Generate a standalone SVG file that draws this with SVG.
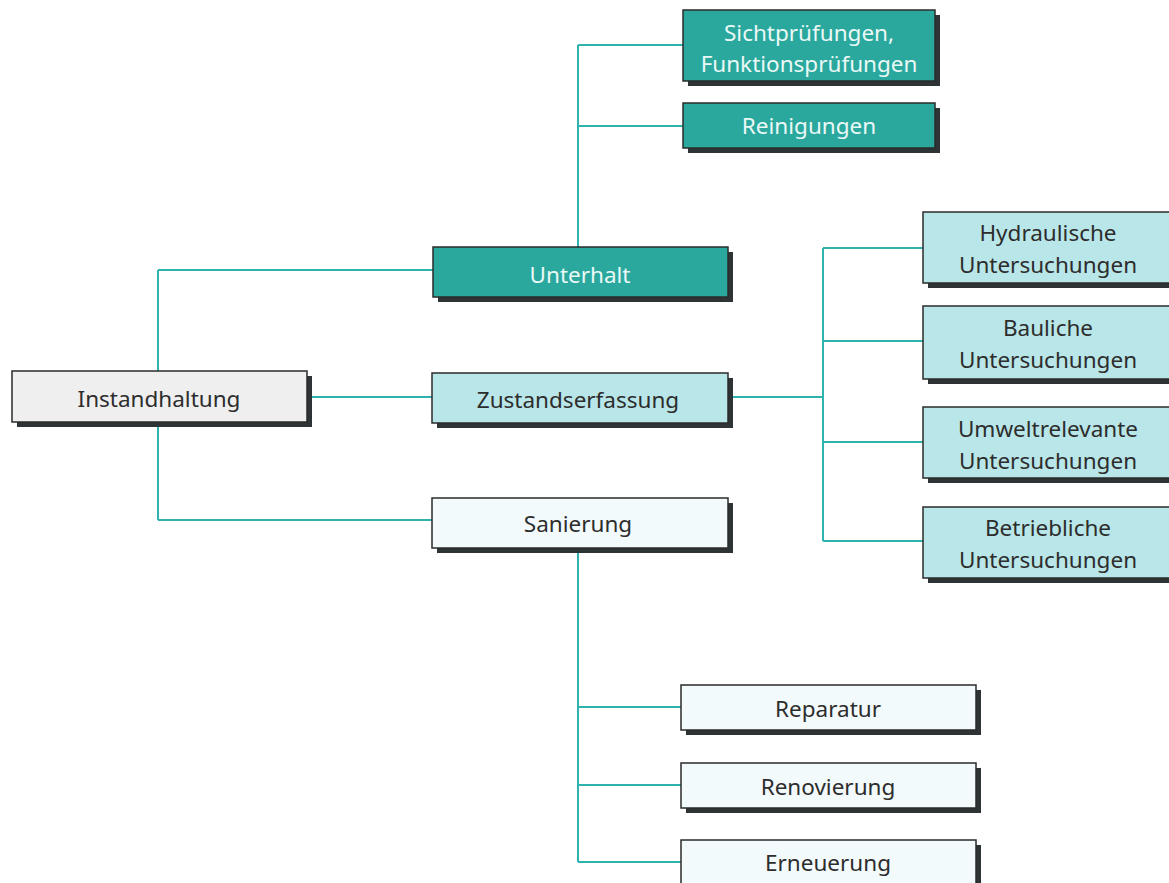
<svg xmlns="http://www.w3.org/2000/svg" width="1169" height="883" viewBox="0 0 1169 883">
<defs>
<style>
.sh{fill:#2e3436}
.b{stroke:#2b2b2b;stroke-width:1.5}
.dk{fill:#2aa89e}
.lt{fill:#b9e6e8}
.wh{fill:#f3fafb}
.gr{fill:#efefef}
text{font-family:"Noto Sans","Liberation Sans",sans-serif;font-size:22.5px;text-anchor:middle}
.tl{fill:#eaf8f6}
.td{fill:#2d2d2d}
.c{stroke:#2fb3ae;stroke-width:2;fill:none}
</style>
</defs>
<rect width="1169" height="883" fill="#ffffff"/>
<g id="connectors">
<path class="c" d="M158 270 V520 M158 270 H433 M158 520 H432 M307 397 H432"/>
<path class="c" d="M578 247 V45 M578 45 H683 M578 126 H683"/>
<path class="c" d="M728 397 H823 M823 248 V541 M823 248 H923 M823 341 H923 M823 442 H923 M823 541 H923"/>
<path class="c" d="M578 548 V862 M578 707 H681 M578 785 H681 M578 862 H681"/>
</g>
<g id="instandhaltung">
<rect class="sh" x="17" y="376" width="295" height="51"/>
<rect class="gr b" x="12" y="371" width="295" height="51"/>
<text class="td" x="159" y="407">Instandhaltung</text>
</g>
<g id="unterhalt">
<rect class="sh" x="438" y="252" width="295" height="50"/>
<rect class="dk b" x="433" y="247" width="295" height="50"/>
<text class="tl" x="580" y="283">Unterhalt</text>
</g>
<g id="zustandserfassung">
<rect class="sh" x="437" y="378" width="296" height="50"/>
<rect class="lt b" x="432" y="373" width="296" height="50"/>
<text class="td" x="578" y="408">Zustandserfassung</text>
</g>
<g id="sanierung">
<rect class="sh" x="437" y="503" width="296" height="50"/>
<rect class="wh b" x="432" y="498" width="296" height="50"/>
<text class="td" x="578" y="532">Sanierung</text>
</g>
<g id="sichtpruefungen">
<rect class="sh" x="688" y="15" width="252" height="71"/>
<rect class="dk b" x="683" y="10" width="252" height="71"/>
<text class="tl" x="809" y="41">Sichtprüfungen,</text>
<text class="tl" x="809" y="72">Funktionsprüfungen</text>
</g>
<g id="reinigungen">
<rect class="sh" x="688" y="108" width="252" height="45"/>
<rect class="dk b" x="683" y="103" width="252" height="45"/>
<text class="tl" x="809" y="134">Reinigungen</text>
</g>
<g id="hydraulische">
<rect class="sh" x="928" y="217" width="250" height="71"/>
<rect class="lt b" x="923" y="212" width="250" height="71"/>
<text class="td" x="1048" y="241">Hydraulische</text>
<text class="td" x="1048" y="273">Untersuchungen</text>
</g>
<g id="bauliche">
<rect class="sh" x="928" y="311" width="250" height="73"/>
<rect class="lt b" x="923" y="306" width="250" height="73"/>
<text class="td" x="1048" y="336">Bauliche</text>
<text class="td" x="1048" y="368">Untersuchungen</text>
</g>
<g id="umweltrelevante">
<rect class="sh" x="928" y="412" width="250" height="71"/>
<rect class="lt b" x="923" y="407" width="250" height="71"/>
<text class="td" x="1048" y="437">Umweltrelevante</text>
<text class="td" x="1048" y="469">Untersuchungen</text>
</g>
<g id="betriebliche">
<rect class="sh" x="928" y="512" width="250" height="71"/>
<rect class="lt b" x="923" y="507" width="250" height="71"/>
<text class="td" x="1048" y="536">Betriebliche</text>
<text class="td" x="1048" y="568">Untersuchungen</text>
</g>
<g id="reparatur">
<rect class="sh" x="686" y="690" width="295" height="45"/>
<rect class="wh b" x="681" y="685" width="295" height="45"/>
<text class="td" x="828" y="717">Reparatur</text>
</g>
<g id="renovierung">
<rect class="sh" x="686" y="768" width="295" height="45"/>
<rect class="wh b" x="681" y="763" width="295" height="45"/>
<text class="td" x="828" y="795">Renovierung</text>
</g>
<g id="erneuerung">
<rect class="sh" x="686" y="845" width="295" height="45"/>
<rect class="wh b" x="681" y="840" width="295" height="45"/>
<text class="td" x="828" y="871">Erneuerung</text>
</g>
</svg>
